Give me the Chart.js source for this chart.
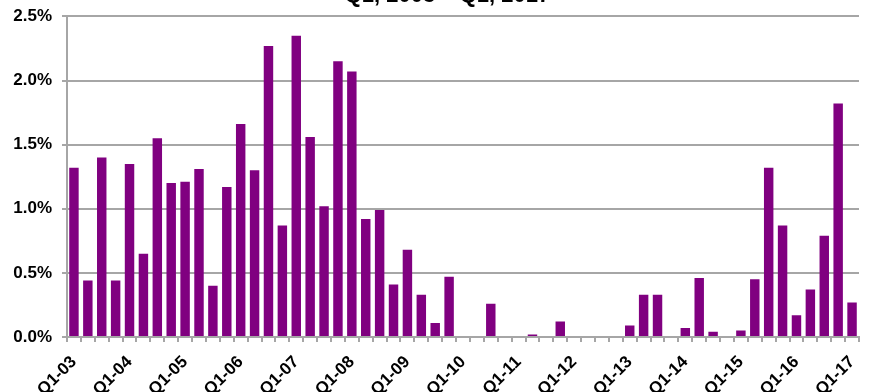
<!DOCTYPE html>
<html>
<head>
<meta charset="utf-8">
<script src="https://cdn.jsdelivr.net/npm/chart.js@4/dist/chart.umd.min.js"></script>
<style>
  html, body { margin: 0; padding: 0; background: #ffffff; overflow: hidden; }
  #wrap { position: relative; width: 869px; height: 392px; overflow: hidden; }
  #chart { position: absolute; left: 0; top: -17px; }
</style>
</head>
<body>
<div id="wrap"><canvas id="chart" width="895" height="409"></canvas></div>
<script>
// Quarterly categories, Q1 2003 through Q1 2017
const quarters = [
  'Q1-03','Q2-03','Q3-03','Q4-03',
  'Q1-04','Q2-04','Q3-04','Q4-04',
  'Q1-05','Q2-05','Q3-05','Q4-05',
  'Q1-06','Q2-06','Q3-06','Q4-06',
  'Q1-07','Q2-07','Q3-07','Q4-07',
  'Q1-08','Q2-08','Q3-08','Q4-08',
  'Q1-09','Q2-09','Q3-09','Q4-09',
  'Q1-10','Q2-10','Q3-10','Q4-10',
  'Q1-11','Q2-11','Q3-11','Q4-11',
  'Q1-12','Q2-12','Q3-12','Q4-12',
  'Q1-13','Q2-13','Q3-13','Q4-13',
  'Q1-14','Q2-14','Q3-14','Q4-14',
  'Q1-15','Q2-15','Q3-15','Q4-15',
  'Q1-16','Q2-16','Q3-16','Q4-16',
  'Q1-17'
];

// Quarterly rate, in percent
const rates = [
  1.32, 0.44, 1.40, 0.44,
  1.35, 0.65, 1.55, 1.20,
  1.21, 1.31, 0.40, 1.17,
  1.66, 1.30, 2.27, 0.87,
  2.35, 1.56, 1.02, 2.15,
  2.07, 0.92, 0.99, 0.41,
  0.68, 0.33, 0.11, 0.47,
  0.00, 0.00, 0.26, 0.00,
  0.00, 0.02, 0.00, 0.12,
  0.00, 0.00, 0.00, 0.00,
  0.09, 0.33, 0.33, 0.00,
  0.07, 0.46, 0.04, 0.00,
  0.05, 0.45, 1.32, 0.87,
  0.17, 0.37, 0.79, 1.82,
  0.27
];

// Y axis tick values, in percent
const yTicks = [0.0, 0.5, 1.0, 1.5, 2.0, 2.5];

const titleText = 'Q1, 2003 \u2013 Q1, 2017';

const FONT = '"Liberation Sans", Arial, Helvetica, sans-serif';
const GRID = '#a6a6a6';
const BAR = '#800080';

new Chart(document.getElementById('chart'), {
  type: 'bar',
  data: {
    labels: quarters,
    datasets: [{
      data: rates,
      backgroundColor: BAR,
      borderWidth: 0,
      barPercentage: 0.68,
      categoryPercentage: 1.0
    }]
  },
  options: {
    responsive: false,
    animation: false,
    devicePixelRatio: 1,
    layout: { padding: 0 },
    plugins: {
      legend: { display: false },
      tooltip: { enabled: false },
      title: {
        display: true,
        text: titleText,
        color: '#000000',
        font: { family: FONT, size: 22, weight: 'bold' },
        padding: { top: 0, bottom: 7 }
      }
    },
    scales: {
      x: {
        offset: true,
        grid: {
          offset: true,
          drawOnChartArea: false,
          drawTicks: true,
          tickLength: 5,
          color: GRID,
          lineWidth: 2
        },
        border: { display: true, color: GRID, width: 2 },
        ticks: {
          autoSkip: false,
          minRotation: 45,
          maxRotation: 45,
          padding: 10,
          color: '#000000',
          font: { family: FONT, size: 17, weight: 'bold' },
          callback: function (value, index) {
            return index % 4 === 0 ? quarters[index] : '';
          }
        },
        afterFit: function (scale) { scale.height = 55; }
      },
      y: {
        min: yTicks[0],
        max: yTicks[yTicks.length - 1],
        afterBuildTicks: function (scale) {
          scale.ticks = yTicks.map(v => ({ value: v }));
        },
        grid: {
          drawTicks: true,
          tickLength: 5,
          color: GRID,
          lineWidth: 2
        },
        border: { display: true, color: GRID, width: 2 },
        ticks: {
          padding: 10,
          color: '#000000',
          font: { family: FONT, size: 17, weight: 'bold' },
          callback: function (value) { return value.toFixed(1) + '%'; }
        },
        afterFit: function (scale) { scale.width = 67; }
      },
      // empty right-hand margin so the plot ends before the title's box does
      margin: {
        type: 'linear',
        position: 'right',
        display: true,
        grid: { display: false },
        border: { display: false },
        ticks: { display: false },
        afterFit: function (scale) { scale.width = 36; }
      }
    }
  }
});
</script>
</body>
</html>
